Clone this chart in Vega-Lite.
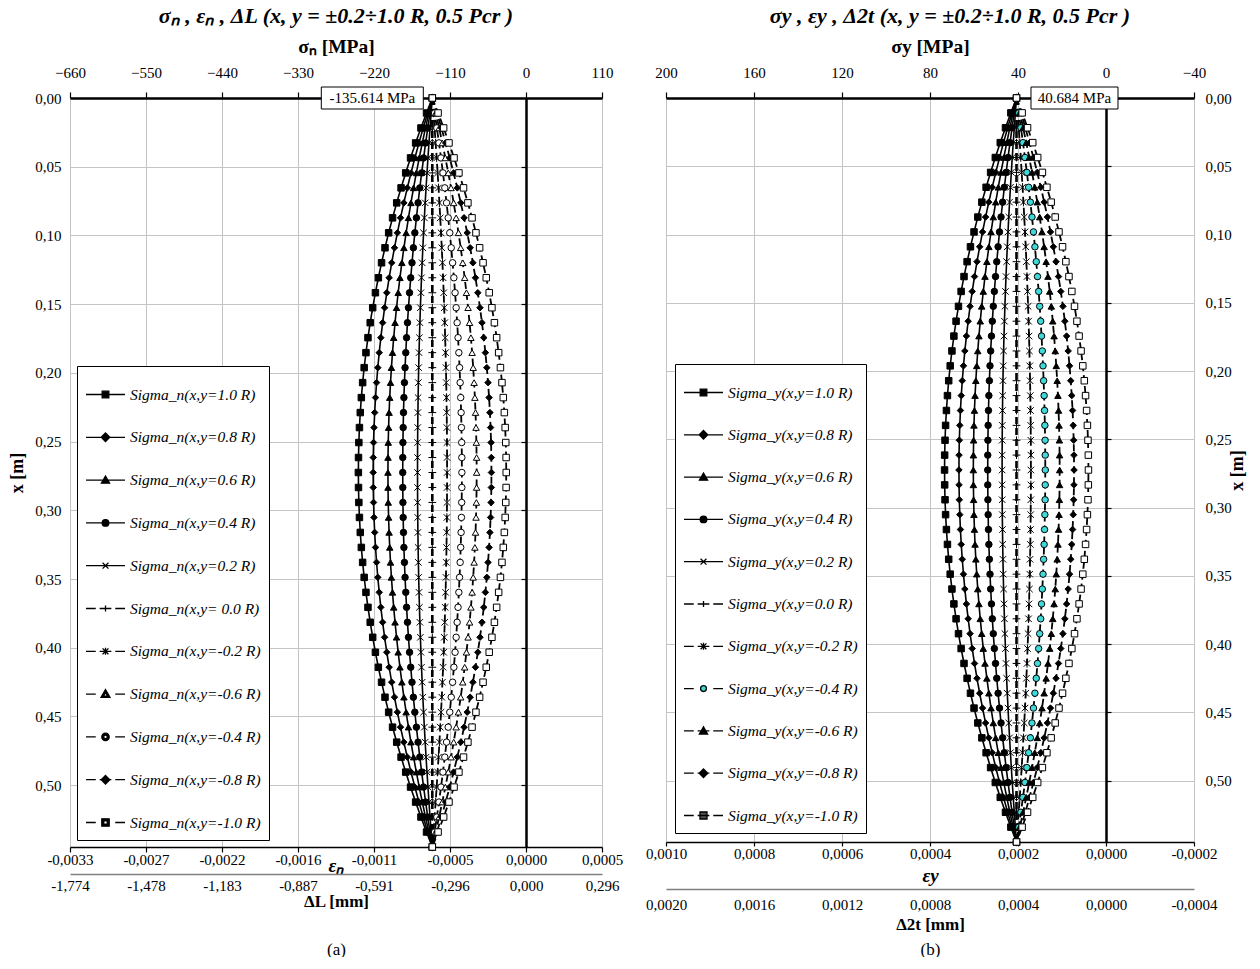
{
  "$schema": "https://vega.github.io/schema/vega-lite/v6.json",
  "background": "white",
  "padding": {"left": 8, "top": 5, "right": 2, "bottom": 0},
  "bounds": "flush",
  "spacing": 64,
  "config": {
    "font": "Liberation Serif",
    "view": {"stroke": null},
    "axis": {
      "labelFont": "Liberation Serif", "titleFont": "Liberation Serif",
      "labelFontSize": 15, "titleFontSize": 18, "titleFontWeight": "bold",
      "labelColor": "black", "titleColor": "black",
      "domainColor": "black", "tickColor": "black",
      "labelFlush": false, "labelOverlap": false, "zindex": 0,
      "gridColor": "#c4c4c4"
    },
    "legend": {"labelFont": "Liberation Serif", "labelFontStyle": "italic", "labelFontSize": 15.5, "labelColor": "black", "labelLimit": 0},
    "title": {"font": "Liberation Serif", "fontSize": 22, "fontStyle": "italic", "fontWeight": "bold", "color": "black"}
  },
  "datasets": {
    "left": [
      {"x":0,"a":-135.61,"b":-135.61,"c":-135.61,"d":-135.61,"e":-135.61,"f":-135.61,"g":-135.61,"h":-135.61,"i":-135.61,"j":-135.61,"k":-135.61},
      {"x":0.0109,"a":-144.00,"b":-142.32,"c":-140.64,"d":-138.97,"e":-137.29,"f":-135.61,"g":-133.93,"h":-132.25,"i":-130.58,"j":-128.90,"k":-127.22},
      {"x":0.0218,"a":-152.05,"b":-148.76,"c":-145.47,"d":-142.19,"e":-138.90,"f":-135.61,"g":-132.32,"h":-129.03,"i":-125.75,"j":-122.46,"k":-119.17},
      {"x":0.0327,"a":-159.75,"b":-154.92,"c":-150.09,"d":-145.27,"e":-140.44,"f":-135.61,"g":-130.78,"h":-125.95,"i":-121.13,"j":-116.30,"k":-111.47},
      {"x":0.0436,"a":-167.11,"b":-160.81,"c":-154.51,"d":-148.21,"e":-141.91,"f":-135.61,"g":-129.31,"h":-123.01,"i":-116.71,"j":-110.41,"k":-104.11},
      {"x":0.0545,"a":-174.13,"b":-166.43,"c":-158.72,"d":-151.02,"e":-143.31,"f":-135.61,"g":-127.91,"h":-120.20,"i":-112.50,"j":-104.79,"k":-97.09},
      {"x":0.0654,"a":-180.81,"b":-171.77,"c":-162.73,"d":-153.69,"e":-144.65,"f":-135.61,"g":-126.57,"h":-117.53,"i":-108.49,"j":-99.45,"k":-90.41},
      {"x":0.0763,"a":-187.14,"b":-176.83,"c":-166.53,"d":-156.22,"e":-145.92,"f":-135.61,"g":-125.30,"h":-115.00,"i":-104.69,"j":-94.39,"k":-84.08},
      {"x":0.0872,"a":-193.13,"b":-181.63,"c":-170.12,"d":-158.62,"e":-147.11,"f":-135.61,"g":-124.11,"h":-112.60,"i":-101.10,"j":-89.59,"k":-78.09},
      {"x":0.0981,"a":-198.78,"b":-186.15,"c":-173.51,"d":-160.88,"e":-148.24,"f":-135.61,"g":-122.98,"h":-110.34,"i":-97.71,"j":-85.07,"k":-72.44},
      {"x":0.109,"a":-204.09,"b":-190.39,"c":-176.70,"d":-163.00,"e":-149.31,"f":-135.61,"g":-121.91,"h":-108.22,"i":-94.52,"j":-80.83,"k":-67.13},
      {"x":0.1199,"a":-209.05,"b":-194.36,"c":-179.67,"d":-164.99,"e":-150.30,"f":-135.61,"g":-120.92,"h":-106.23,"i":-91.55,"j":-76.86,"k":-62.17},
      {"x":0.1308,"a":-213.68,"b":-198.07,"c":-182.45,"d":-166.84,"e":-151.22,"f":-135.61,"g":-120.00,"h":-104.38,"i":-88.77,"j":-73.15,"k":-57.54},
      {"x":0.1417,"a":-217.96,"b":-201.49,"c":-185.02,"d":-168.55,"e":-152.08,"f":-135.61,"g":-119.14,"h":-102.67,"i":-86.20,"j":-69.73,"k":-53.26},
      {"x":0.1526,"a":-221.89,"b":-204.63,"c":-187.38,"d":-170.12,"e":-152.87,"f":-135.61,"g":-118.35,"h":-101.10,"i":-83.84,"j":-66.59,"k":-49.33},
      {"x":0.1635,"a":-225.49,"b":-207.51,"c":-189.54,"d":-171.56,"e":-153.59,"f":-135.61,"g":-117.63,"h":-99.66,"i":-81.68,"j":-63.71,"k":-45.73},
      {"x":0.1744,"a":-228.74,"b":-210.11,"c":-191.49,"d":-172.86,"e":-154.24,"f":-135.61,"g":-116.98,"h":-98.36,"i":-79.73,"j":-61.11,"k":-42.48},
      {"x":0.1853,"a":-231.65,"b":-212.44,"c":-193.23,"d":-174.03,"e":-154.82,"f":-135.61,"g":-116.40,"h":-97.19,"i":-77.99,"j":-58.78,"k":-39.57},
      {"x":0.1962,"a":-234.22,"b":-214.50,"c":-194.78,"d":-175.05,"e":-155.33,"f":-135.61,"g":-115.89,"h":-96.17,"i":-76.44,"j":-56.72,"k":-37.00},
      {"x":0.2071,"a":-236.45,"b":-216.28,"c":-196.11,"d":-175.95,"e":-155.78,"f":-135.61,"g":-115.44,"h":-95.27,"i":-75.11,"j":-54.94,"k":-34.77},
      {"x":0.218,"a":-238.33,"b":-217.79,"c":-197.24,"d":-176.70,"e":-156.15,"f":-135.61,"g":-115.07,"h":-94.52,"i":-73.98,"j":-53.43,"k":-32.89},
      {"x":0.2289,"a":-239.87,"b":-219.02,"c":-198.17,"d":-177.31,"e":-156.46,"f":-135.61,"g":-114.76,"h":-93.91,"i":-73.05,"j":-52.20,"k":-31.35},
      {"x":0.2398,"a":-241.07,"b":-219.98,"c":-198.89,"d":-177.79,"e":-156.70,"f":-135.61,"g":-114.52,"h":-93.43,"i":-72.33,"j":-51.24,"k":-30.15},
      {"x":0.2507,"a":-241.93,"b":-220.67,"c":-199.40,"d":-178.14,"e":-156.87,"f":-135.61,"g":-114.35,"h":-93.08,"i":-71.82,"j":-50.55,"k":-29.29},
      {"x":0.2616,"a":-242.44,"b":-221.07,"c":-199.71,"d":-178.34,"e":-156.98,"f":-135.61,"g":-114.24,"h":-92.88,"i":-71.51,"j":-50.15,"k":-28.78},
      {"x":0.2725,"a":-242.61,"b":-221.21,"c":-199.81,"d":-178.41,"e":-157.01,"f":-135.61,"g":-114.21,"h":-92.81,"i":-71.41,"j":-50.01,"k":-28.61},
      {"x":0.2834,"a":-242.44,"b":-221.07,"c":-199.71,"d":-178.34,"e":-156.98,"f":-135.61,"g":-114.24,"h":-92.88,"i":-71.51,"j":-50.15,"k":-28.78},
      {"x":0.2943,"a":-241.93,"b":-220.67,"c":-199.40,"d":-178.14,"e":-156.87,"f":-135.61,"g":-114.35,"h":-93.08,"i":-71.82,"j":-50.55,"k":-29.29},
      {"x":0.3052,"a":-241.07,"b":-219.98,"c":-198.89,"d":-177.79,"e":-156.70,"f":-135.61,"g":-114.52,"h":-93.43,"i":-72.33,"j":-51.24,"k":-30.15},
      {"x":0.3161,"a":-239.87,"b":-219.02,"c":-198.17,"d":-177.31,"e":-156.46,"f":-135.61,"g":-114.76,"h":-93.91,"i":-73.05,"j":-52.20,"k":-31.35},
      {"x":0.327,"a":-238.33,"b":-217.79,"c":-197.24,"d":-176.70,"e":-156.15,"f":-135.61,"g":-115.07,"h":-94.52,"i":-73.98,"j":-53.43,"k":-32.89},
      {"x":0.3379,"a":-236.45,"b":-216.28,"c":-196.11,"d":-175.95,"e":-155.78,"f":-135.61,"g":-115.44,"h":-95.27,"i":-75.11,"j":-54.94,"k":-34.77},
      {"x":0.3488,"a":-234.22,"b":-214.50,"c":-194.78,"d":-175.05,"e":-155.33,"f":-135.61,"g":-115.89,"h":-96.17,"i":-76.44,"j":-56.72,"k":-37.00},
      {"x":0.3597,"a":-231.65,"b":-212.44,"c":-193.23,"d":-174.03,"e":-154.82,"f":-135.61,"g":-116.40,"h":-97.19,"i":-77.99,"j":-58.78,"k":-39.57},
      {"x":0.3706,"a":-228.74,"b":-210.11,"c":-191.49,"d":-172.86,"e":-154.24,"f":-135.61,"g":-116.98,"h":-98.36,"i":-79.73,"j":-61.11,"k":-42.48},
      {"x":0.3815,"a":-225.49,"b":-207.51,"c":-189.54,"d":-171.56,"e":-153.59,"f":-135.61,"g":-117.63,"h":-99.66,"i":-81.68,"j":-63.71,"k":-45.73},
      {"x":0.3924,"a":-221.89,"b":-204.63,"c":-187.38,"d":-170.12,"e":-152.87,"f":-135.61,"g":-118.35,"h":-101.10,"i":-83.84,"j":-66.59,"k":-49.33},
      {"x":0.4033,"a":-217.96,"b":-201.49,"c":-185.02,"d":-168.55,"e":-152.08,"f":-135.61,"g":-119.14,"h":-102.67,"i":-86.20,"j":-69.73,"k":-53.26},
      {"x":0.4142,"a":-213.68,"b":-198.07,"c":-182.45,"d":-166.84,"e":-151.22,"f":-135.61,"g":-120.00,"h":-104.38,"i":-88.77,"j":-73.15,"k":-57.54},
      {"x":0.4251,"a":-209.05,"b":-194.36,"c":-179.67,"d":-164.99,"e":-150.30,"f":-135.61,"g":-120.92,"h":-106.23,"i":-91.55,"j":-76.86,"k":-62.17},
      {"x":0.436,"a":-204.09,"b":-190.39,"c":-176.70,"d":-163.00,"e":-149.31,"f":-135.61,"g":-121.91,"h":-108.22,"i":-94.52,"j":-80.83,"k":-67.13},
      {"x":0.4469,"a":-198.78,"b":-186.15,"c":-173.51,"d":-160.88,"e":-148.24,"f":-135.61,"g":-122.98,"h":-110.34,"i":-97.71,"j":-85.07,"k":-72.44},
      {"x":0.4578,"a":-193.13,"b":-181.63,"c":-170.12,"d":-158.62,"e":-147.11,"f":-135.61,"g":-124.11,"h":-112.60,"i":-101.10,"j":-89.59,"k":-78.09},
      {"x":0.4687,"a":-187.14,"b":-176.83,"c":-166.53,"d":-156.22,"e":-145.92,"f":-135.61,"g":-125.30,"h":-115.00,"i":-104.69,"j":-94.39,"k":-84.08},
      {"x":0.4796,"a":-180.81,"b":-171.77,"c":-162.73,"d":-153.69,"e":-144.65,"f":-135.61,"g":-126.57,"h":-117.53,"i":-108.49,"j":-99.45,"k":-90.41},
      {"x":0.4905,"a":-174.13,"b":-166.43,"c":-158.72,"d":-151.02,"e":-143.31,"f":-135.61,"g":-127.91,"h":-120.20,"i":-112.50,"j":-104.79,"k":-97.09},
      {"x":0.5014,"a":-167.11,"b":-160.81,"c":-154.51,"d":-148.21,"e":-141.91,"f":-135.61,"g":-129.31,"h":-123.01,"i":-116.71,"j":-110.41,"k":-104.11},
      {"x":0.5123,"a":-159.75,"b":-154.92,"c":-150.09,"d":-145.27,"e":-140.44,"f":-135.61,"g":-130.78,"h":-125.95,"i":-121.13,"j":-116.30,"k":-111.47},
      {"x":0.5232,"a":-152.05,"b":-148.76,"c":-145.47,"d":-142.19,"e":-138.90,"f":-135.61,"g":-132.32,"h":-129.03,"i":-125.75,"j":-122.46,"k":-119.17},
      {"x":0.5341,"a":-144.00,"b":-142.32,"c":-140.64,"d":-138.97,"e":-137.29,"f":-135.61,"g":-133.93,"h":-132.25,"i":-130.58,"j":-128.90,"k":-127.22},
      {"x":0.545,"a":-135.61,"b":-135.61,"c":-135.61,"d":-135.61,"e":-135.61,"f":-135.61,"g":-135.61,"h":-135.61,"i":-135.61,"j":-135.61,"k":-135.61}
    ],
    "right": [
      {"x":0,"a":40.68,"b":40.68,"c":40.68,"d":40.68,"e":40.68,"f":40.68,"g":40.68,"h":40.68,"i":40.68,"j":40.68,"k":40.68},
      {"x":0.0109,"a":43.25,"b":42.73,"c":42.22,"d":41.71,"e":41.19,"f":40.68,"g":40.17,"h":39.65,"i":39.14,"j":38.63,"k":38.12},
      {"x":0.0218,"a":45.70,"b":44.70,"c":43.69,"d":42.69,"e":41.68,"f":40.68,"g":39.68,"h":38.67,"i":37.67,"j":36.66,"k":35.66},
      {"x":0.0327,"a":48.06,"b":46.58,"c":45.11,"d":43.63,"e":42.16,"f":40.68,"g":39.20,"h":37.73,"i":36.25,"j":34.78,"k":33.30},
      {"x":0.0436,"a":50.31,"b":48.38,"c":46.46,"d":44.53,"e":42.61,"f":40.68,"g":38.75,"h":36.83,"i":34.90,"j":32.98,"k":31.05},
      {"x":0.0545,"a":52.45,"b":50.10,"c":47.74,"d":45.39,"e":43.03,"f":40.68,"g":38.33,"h":35.97,"i":33.62,"j":31.26,"k":28.91},
      {"x":0.0654,"a":54.49,"b":51.73,"c":48.97,"d":46.20,"e":43.44,"f":40.68,"g":37.92,"h":35.16,"i":32.39,"j":29.63,"k":26.87},
      {"x":0.0763,"a":56.43,"b":53.28,"c":50.13,"d":46.98,"e":43.83,"f":40.68,"g":37.53,"h":34.38,"i":31.23,"j":28.08,"k":24.93},
      {"x":0.0872,"a":58.26,"b":54.74,"c":51.23,"d":47.71,"e":44.20,"f":40.68,"g":37.16,"h":33.65,"i":30.13,"j":26.62,"k":23.10},
      {"x":0.0981,"a":59.99,"b":56.12,"c":52.26,"d":48.40,"e":44.54,"f":40.68,"g":36.82,"h":32.96,"i":29.10,"j":25.24,"k":21.37},
      {"x":0.109,"a":61.61,"b":57.42,"c":53.24,"d":49.05,"e":44.87,"f":40.68,"g":36.49,"h":32.31,"i":28.12,"j":23.94,"k":19.75},
      {"x":0.1199,"a":63.13,"b":58.64,"c":54.15,"d":49.66,"e":45.17,"f":40.68,"g":36.19,"h":31.70,"i":27.21,"j":22.72,"k":18.24},
      {"x":0.1308,"a":64.54,"b":59.77,"c":55.00,"d":50.22,"e":45.45,"f":40.68,"g":35.91,"h":31.14,"i":26.37,"j":21.59,"k":16.83},
      {"x":0.1417,"a":65.85,"b":60.81,"c":55.78,"d":50.75,"e":45.71,"f":40.68,"g":35.65,"h":30.61,"i":25.58,"j":20.55,"k":15.52},
      {"x":0.1526,"a":67.05,"b":61.78,"c":56.50,"d":51.23,"e":45.95,"f":40.68,"g":35.41,"h":30.13,"i":24.86,"j":19.58,"k":14.31},
      {"x":0.1635,"a":68.15,"b":62.65,"c":57.16,"d":51.67,"e":46.17,"f":40.68,"g":35.19,"h":29.69,"i":24.20,"j":18.71,"k":13.21},
      {"x":0.1744,"a":69.14,"b":63.45,"c":57.76,"d":52.06,"e":46.37,"f":40.68,"g":34.99,"h":29.30,"i":23.60,"j":17.91,"k":12.22},
      {"x":0.1853,"a":70.03,"b":64.16,"c":58.29,"d":52.42,"e":46.55,"f":40.68,"g":34.81,"h":28.94,"i":23.07,"j":17.20,"k":11.33},
      {"x":0.1962,"a":70.82,"b":64.79,"c":58.76,"d":52.73,"e":46.71,"f":40.68,"g":34.65,"h":28.63,"i":22.60,"j":16.57,"k":10.54},
      {"x":0.2071,"a":71.50,"b":65.33,"c":59.17,"d":53.01,"e":46.84,"f":40.68,"g":34.52,"h":28.35,"i":22.19,"j":16.03,"k":9.86},
      {"x":0.218,"a":72.07,"b":65.79,"c":59.52,"d":53.24,"e":46.96,"f":40.68,"g":34.40,"h":28.12,"i":21.84,"j":15.57,"k":9.29},
      {"x":0.2289,"a":72.54,"b":66.17,"c":59.80,"d":53.43,"e":47.05,"f":40.68,"g":34.31,"h":27.93,"i":21.56,"j":15.19,"k":8.82},
      {"x":0.2398,"a":72.91,"b":66.46,"c":60.02,"d":53.57,"e":47.13,"f":40.68,"g":34.23,"h":27.79,"i":21.34,"j":14.90,"k":8.45},
      {"x":0.2507,"a":73.17,"b":66.67,"c":60.17,"d":53.68,"e":47.18,"f":40.68,"g":34.18,"h":27.68,"i":21.19,"j":14.69,"k":8.19},
      {"x":0.2616,"a":73.33,"b":66.80,"c":60.27,"d":53.74,"e":47.21,"f":40.68,"g":34.15,"h":27.62,"i":21.09,"j":14.56,"k":8.03},
      {"x":0.2725,"a":73.38,"b":66.84,"c":60.30,"d":53.76,"e":47.22,"f":40.68,"g":34.14,"h":27.60,"i":21.06,"j":14.52,"k":7.98},
      {"x":0.2834,"a":73.33,"b":66.80,"c":60.27,"d":53.74,"e":47.21,"f":40.68,"g":34.15,"h":27.62,"i":21.09,"j":14.56,"k":8.03},
      {"x":0.2943,"a":73.17,"b":66.67,"c":60.17,"d":53.68,"e":47.18,"f":40.68,"g":34.18,"h":27.68,"i":21.19,"j":14.69,"k":8.19},
      {"x":0.3052,"a":72.91,"b":66.46,"c":60.02,"d":53.57,"e":47.13,"f":40.68,"g":34.23,"h":27.79,"i":21.34,"j":14.90,"k":8.45},
      {"x":0.3161,"a":72.54,"b":66.17,"c":59.80,"d":53.43,"e":47.05,"f":40.68,"g":34.31,"h":27.93,"i":21.56,"j":15.19,"k":8.82},
      {"x":0.327,"a":72.07,"b":65.79,"c":59.52,"d":53.24,"e":46.96,"f":40.68,"g":34.40,"h":28.12,"i":21.84,"j":15.57,"k":9.29},
      {"x":0.3379,"a":71.50,"b":65.33,"c":59.17,"d":53.01,"e":46.84,"f":40.68,"g":34.52,"h":28.35,"i":22.19,"j":16.03,"k":9.86},
      {"x":0.3488,"a":70.82,"b":64.79,"c":58.76,"d":52.73,"e":46.71,"f":40.68,"g":34.65,"h":28.63,"i":22.60,"j":16.57,"k":10.54},
      {"x":0.3597,"a":70.03,"b":64.16,"c":58.29,"d":52.42,"e":46.55,"f":40.68,"g":34.81,"h":28.94,"i":23.07,"j":17.20,"k":11.33},
      {"x":0.3706,"a":69.14,"b":63.45,"c":57.76,"d":52.06,"e":46.37,"f":40.68,"g":34.99,"h":29.30,"i":23.60,"j":17.91,"k":12.22},
      {"x":0.3815,"a":68.15,"b":62.65,"c":57.16,"d":51.67,"e":46.17,"f":40.68,"g":35.19,"h":29.69,"i":24.20,"j":18.71,"k":13.21},
      {"x":0.3924,"a":67.05,"b":61.78,"c":56.50,"d":51.23,"e":45.95,"f":40.68,"g":35.41,"h":30.13,"i":24.86,"j":19.58,"k":14.31},
      {"x":0.4033,"a":65.85,"b":60.81,"c":55.78,"d":50.75,"e":45.71,"f":40.68,"g":35.65,"h":30.61,"i":25.58,"j":20.55,"k":15.52},
      {"x":0.4142,"a":64.54,"b":59.77,"c":55.00,"d":50.22,"e":45.45,"f":40.68,"g":35.91,"h":31.14,"i":26.37,"j":21.59,"k":16.83},
      {"x":0.4251,"a":63.13,"b":58.64,"c":54.15,"d":49.66,"e":45.17,"f":40.68,"g":36.19,"h":31.70,"i":27.21,"j":22.72,"k":18.24},
      {"x":0.436,"a":61.61,"b":57.42,"c":53.24,"d":49.05,"e":44.87,"f":40.68,"g":36.49,"h":32.31,"i":28.12,"j":23.94,"k":19.75},
      {"x":0.4469,"a":59.99,"b":56.12,"c":52.26,"d":48.40,"e":44.54,"f":40.68,"g":36.82,"h":32.96,"i":29.10,"j":25.24,"k":21.37},
      {"x":0.4578,"a":58.26,"b":54.74,"c":51.23,"d":47.71,"e":44.20,"f":40.68,"g":37.16,"h":33.65,"i":30.13,"j":26.62,"k":23.10},
      {"x":0.4687,"a":56.43,"b":53.28,"c":50.13,"d":46.98,"e":43.83,"f":40.68,"g":37.53,"h":34.38,"i":31.23,"j":28.08,"k":24.93},
      {"x":0.4796,"a":54.49,"b":51.73,"c":48.97,"d":46.20,"e":43.44,"f":40.68,"g":37.92,"h":35.16,"i":32.39,"j":29.63,"k":26.87},
      {"x":0.4905,"a":52.45,"b":50.10,"c":47.74,"d":45.39,"e":43.03,"f":40.68,"g":38.33,"h":35.97,"i":33.62,"j":31.26,"k":28.91},
      {"x":0.5014,"a":50.31,"b":48.38,"c":46.46,"d":44.53,"e":42.61,"f":40.68,"g":38.75,"h":36.83,"i":34.90,"j":32.98,"k":31.05},
      {"x":0.5123,"a":48.06,"b":46.58,"c":45.11,"d":43.63,"e":42.16,"f":40.68,"g":39.20,"h":37.73,"i":36.25,"j":34.78,"k":33.30},
      {"x":0.5232,"a":45.70,"b":44.70,"c":43.69,"d":42.69,"e":41.68,"f":40.68,"g":39.68,"h":38.67,"i":37.67,"j":36.66,"k":35.66},
      {"x":0.5341,"a":43.25,"b":42.73,"c":42.22,"d":41.71,"e":41.19,"f":40.68,"g":40.17,"h":39.65,"i":39.14,"j":38.63,"k":38.12},
      {"x":0.545,"a":40.68,"b":40.68,"c":40.68,"d":40.68,"e":40.68,"f":40.68,"g":40.68,"h":40.68,"i":40.68,"j":40.68,"k":40.68}
    ]
  },
  "hconcat": [
    {
      "width": 532,
      "height": 749,
      "title": {"text": "σₙ , εₙ , ΔL (x, y = ±0.2÷1.0 R, 0.5 Pcr )", "offset": 8},
      "layer": [
        {
          "data": {"name": "left"},
          "transform": [{"fold": ["a","b","c","d","e","f","g","h","i","j","k"], "as": ["s","v"]}],
          "mark": {"type": "line", "color": "black", "strokeCap": "butt"},
          "encoding": {
            "x": {"field": "v", "type": "quantitative", "scale": {"domain": [-660, 110], "nice": false, "zero": false},
              "axis": {"orient": "top", "values": [-660,-550,-440,-330,-220,-110,0,110], "format": "d", "title": "σₙ [MPa]", "titleFontSize": 19.5,
                "titlePadding": 9, "labelPadding": 12, "tickSize": 6, "tickWidth": 1.2, "domainWidth": 2.5, "grid": true, "gridWidth": 1}},
            "y": {"field": "x", "type": "quantitative", "scale": {"domain": [0, 0.545], "reverse": true, "nice": false, "zero": false},
              "axis": {"orient": "left", "values": [0,0.05,0.1,0.15,0.2,0.25,0.3,0.35,0.4,0.45,0.5],
                "labelExpr": "replace(format(datum.value, '.2f'), '.', ',')", "title": "x [m]", "titlePadding": 8,
                "ticks": false, "domain": false, "grid": true, "labelPadding": 9}},
            "detail": {"field": "s"},
            "order": {"field": "x", "type": "quantitative"},
            "strokeDash": {"field": "s", "type": "nominal", "legend": null,
              "scale": {"domain": ["a","b","c","d","e","f","g","h","i","j","k"], "range": [[1,0],[1,0],[1,0],[1,0],[1,0],[7,4],[7,4],[7,4],[7,4],[7,4],[7,4]]}},
            "strokeWidth": {"field": "s", "type": "ordinal", "legend": null,
              "scale": {"type": "ordinal", "domain": ["a","b","c","d","e","f","g","h","i","j","k"], "range": [1.6,1.6,1.6,1.6,1.6,2.6,1.8,1.8,1.8,1.8,1.8]}}
          }
        },
        {
          "data": {"name": "left"},
          "transform": [{"fold": ["a","b","c","d","e","f","g","h","i","j","k"], "as": ["s","v"]}],
          "mark": {"type": "point", "filled": true, "stroke": "black", "strokeWidth": 1, "size": 42, "opacity": 1},
          "encoding": {
            "x": {"field": "v", "type": "quantitative", "scale": {"domain": [-660, 110], "nice": false, "zero": false},
              "axis": {"orient": "bottom", "values": [-660,-550,-440,-330,-220,-110,0,110],
                "labelExpr": "['-0,0033','-0,0027','-0,0022','-0,0016','-0,0011','-0,0005','0,0000','0,0005'][round((datum.value + 660) / 110)]",
                "title": "εₙ", "titleFontSize": 19, "titleFontStyle": "italic", "titlePadding": -11,
                "tickSize": 5, "tickWidth": 1.2, "domainWidth": 1.5, "labelPadding": 0, "grid": false}},
            "y": {"field": "x", "type": "quantitative", "scale": {"domain": [0, 0.545], "reverse": true, "nice": false, "zero": false},
              "axis": {"orient": "left", "offset": -456, "values": [0.05,0.1,0.15,0.2,0.25,0.3,0.35,0.4,0.45,0.5],
                "labels": false, "title": null, "grid": false, "domainWidth": 2.5, "tickSize": 5, "tickWidth": 1.2}},
            "shape": {"field": "s", "type": "nominal", "legend": null,
              "scale": {"domain": ["a","b","c","d","e","f","g","h","i","j","k"],
                "range": ["square","diamond","triangle-up","circle","M-1,-1L1,1M-1,1L1,-1","M-1.2,0H1.2M0,-1.2V1.2","M-1,-1L1,1M-1,1L1,-1M0,-1.3V1.3","circle","triangle-up","diamond","square"]}},
            "fill": {"field": "s", "type": "nominal", "legend": null,
              "scale": {"domain": ["a","b","c","d","e","f","g","h","i","j","k"],
                "range": ["black","black","black","black","black","black","black","white","white","black","white"]}}
          }
        },
        {
          "data": {"values": [{"sigma": -135.614, "x": 0, "label": "-135.614 MPa"}]},
          "mark": {"type": "rect", "width": 102, "height": 22, "xOffset": -60, "fill": "white", "stroke": "black", "strokeWidth": 1},
          "encoding": {
            "x": {"field": "sigma", "type": "quantitative", "scale": {"domain": [-660, 110], "nice": false, "zero": false},
              "axis": {"orient": "bottom", "offset": 27, "values": [-660,-550,-440,-330,-220,-110,0,110],
                "labelExpr": "['-1,774','-1,478','-1,183','-0,887','-0,591','-0,296','0,000','0,296'][round((datum.value + 660) / 110)]",
                "title": "ΔL [mm]", "titleFontSize": 17, "titlePadding": 0, "ticks": false, "domainColor": "#808080", "domainWidth": 1.5,
                "labelPadding": 4, "grid": false}},
            "y": {"field": "x", "type": "quantitative", "scale": {"domain": [0, 0.545], "reverse": true, "nice": false, "zero": false}, "axis": null}
          }
        },
        {
          "data": {"values": [{"sigma": -135.614, "x": 0, "label": "-135.614 MPa"}]},
          "mark": {"type": "text", "dx": -60, "font": "Liberation Serif", "fontSize": 15, "color": "black", "baseline": "middle"},
          "encoding": {
            "x": {"field": "sigma", "type": "quantitative", "scale": {"domain": [-660, 110], "nice": false, "zero": false},
              "axis": {"orient": "bottom", "offset": 90, "values": [], "labels": false, "ticks": false, "domain": false, "grid": false,
                "title": "(a)", "titleFontWeight": "normal", "titleFontSize": 17, "titlePadding": 4}},
            "y": {"field": "x", "type": "quantitative", "scale": {"domain": [0, 0.545], "reverse": true, "nice": false, "zero": false}, "axis": null},
            "text": {"field": "label"}
          }
        },
        {
          "data": {"values": [
            {"label": "Sigma_n(x,y=1.0 R)"}, {"label": "Sigma_n(x,y=0.8 R)"}, {"label": "Sigma_n(x,y=0.6 R)"},
            {"label": "Sigma_n(x,y=0.4 R)"}, {"label": "Sigma_n(x,y=0.2 R)"}, {"label": "Sigma_n(x,y= 0.0 R)"},
            {"label": "Sigma_n(x,y=-0.2 R)"}, {"label": "Sigma_n(x,y=-0.6 R)"}, {"label": "Sigma_n(x,y=-0.4 R)"},
            {"label": "Sigma_n(x,y=-0.8 R)"}, {"label": "Sigma_n(x,y=-1.0 R)"}
          ]},
          "mark": {"type": "point", "filled": true, "strokeWidth": 1.3, "opacity": 0},
          "encoding": {
            "shape": {"field": "label", "type": "nominal",
              "scale": {"domain": ["Sigma_n(x,y=1.0 R)","Sigma_n(x,y=0.8 R)","Sigma_n(x,y=0.6 R)","Sigma_n(x,y=0.4 R)","Sigma_n(x,y=0.2 R)","Sigma_n(x,y= 0.0 R)","Sigma_n(x,y=-0.2 R)","Sigma_n(x,y=-0.6 R)","Sigma_n(x,y=-0.4 R)","Sigma_n(x,y=-0.8 R)","Sigma_n(x,y=-1.0 R)"],
                "range": [
                  "M-1,0H1M-0.17,-0.17H0.17V0.17H-0.17Z",
                  "M-1,0H1M0,-0.22L0.22,0L0,0.22L-0.22,0Z",
                  "M-1,0H1M0,-0.21L0.21,0.16H-0.21Z",
                  "M-1,0H1M-0.17,0A0.17,0.17,0,1,1,0.17,0A0.17,0.17,0,1,1,-0.17,0Z",
                  "M-1,0H1M-0.15,-0.15L0.15,0.15M-0.15,0.15L0.15,-0.15",
                  "M-1,0H-0.5M-0.3,0H0.3M0.5,0H1M0,-0.15V0.15",
                  "M-1,0H-0.5M-0.3,0H0.3M0.5,0H1M-0.15,-0.15L0.15,0.15M-0.15,0.15L0.15,-0.15M0,-0.18V0.18",
                  "M-1,0H-0.5M0.5,0H1M0,-0.23L0.23,0.17H-0.23ZM0,-0.08L-0.1,0.1H0.1Z",
                  "M-1,0H-0.5M0.5,0H1M-0.19,0A0.19,0.19,0,1,1,0.19,0A0.19,0.19,0,1,1,-0.19,0ZM-0.09,0A0.09,0.09,0,1,0,0.09,0A0.09,0.09,0,1,0,-0.09,0Z",
                  "M-1,0H-0.5M-0.3,0H0.3M0.5,0H1M0,-0.22L0.22,0L0,0.22L-0.22,0Z",
                  "M-1,0H-0.5M0.5,0H1M-0.19,-0.19H0.19V0.19H-0.19ZM-0.09,-0.09V0.09H0.09V-0.09Z"
                ]},
              "legend": {"title": null, "orient": "bottom-left", "offset": 7, "symbolSize": 1521, "symbolStrokeWidth": 1.3, "symbolOpacity": 1,
                "rowPadding": 13.8, "padding": 8, "labelOffset": 4, "strokeColor": "black", "fillColor": "white"}},
            "fill": {"field": "label", "type": "nominal",
              "scale": {"domain": ["Sigma_n(x,y=1.0 R)","Sigma_n(x,y=0.8 R)","Sigma_n(x,y=0.6 R)","Sigma_n(x,y=0.4 R)","Sigma_n(x,y=0.2 R)","Sigma_n(x,y= 0.0 R)","Sigma_n(x,y=-0.2 R)","Sigma_n(x,y=-0.6 R)","Sigma_n(x,y=-0.4 R)","Sigma_n(x,y=-0.8 R)","Sigma_n(x,y=-1.0 R)"],
                "range": ["black","black","black","black","black","black","black","black","black","black","black"]},
              "legend": {"title": null, "orient": "bottom-left", "offset": 7, "symbolSize": 1521, "symbolStrokeWidth": 1.3, "symbolOpacity": 1,
                "rowPadding": 13.8, "padding": 8, "labelOffset": 4, "strokeColor": "black", "fillColor": "white"}},
            "stroke": {"field": "label", "type": "nominal",
              "scale": {"domain": ["Sigma_n(x,y=1.0 R)","Sigma_n(x,y=0.8 R)","Sigma_n(x,y=0.6 R)","Sigma_n(x,y=0.4 R)","Sigma_n(x,y=0.2 R)","Sigma_n(x,y= 0.0 R)","Sigma_n(x,y=-0.2 R)","Sigma_n(x,y=-0.6 R)","Sigma_n(x,y=-0.4 R)","Sigma_n(x,y=-0.8 R)","Sigma_n(x,y=-1.0 R)"],
                "range": ["black","black","black","black","black","black","black","black","black","black","black"]},
              "legend": {"title": null, "orient": "bottom-left", "offset": 7, "symbolSize": 1521, "symbolStrokeWidth": 1.3, "symbolOpacity": 1,
                "rowPadding": 13.8, "padding": 8, "labelOffset": 4, "strokeColor": "black", "fillColor": "white"}}
          }
        }
      ],
      "resolve": {
        "scale": {"shape": "independent", "fill": "independent", "stroke": "independent"},
        "axis": {"x": "independent", "y": "independent"}
      }
    },
    {
      "width": 528,
      "height": 744,
      "title": {"text": "σy , εy , Δ2t (x, y = ±0.2÷1.0 R, 0.5 Pcr )", "offset": 8, "dx": 20},
      "layer": [
        {
          "data": {"name": "right"},
          "transform": [{"fold": ["a","b","c","d","e","f","g","h","i","j","k"], "as": ["s","v"]}],
          "mark": {"type": "line", "color": "black", "strokeCap": "butt"},
          "encoding": {
            "x": {"field": "v", "type": "quantitative", "scale": {"domain": [-40, 200], "reverse": true, "nice": false, "zero": false},
              "axis": {"orient": "top", "values": [200,160,120,80,40,0,-40], "format": "d", "title": "σy [MPa]", "titleFontSize": 19.5,
                "titlePadding": 9, "labelPadding": 12, "tickSize": 6, "tickWidth": 1.2, "domainWidth": 2.5, "grid": true, "gridWidth": 1}},
            "y": {"field": "x", "type": "quantitative", "scale": {"domain": [0, 0.545], "reverse": true, "nice": false, "zero": false},
              "axis": {"orient": "right", "values": [0,0.05,0.1,0.15,0.2,0.25,0.3,0.35,0.4,0.45,0.5],
                "labelExpr": "replace(format(datum.value, '.2f'), '.', ',')", "title": "x [m]", "titleAngle": 270, "titlePadding": 15,
                "ticks": false, "domain": false, "grid": true, "labelPadding": 11}},
            "detail": {"field": "s"},
            "order": {"field": "x", "type": "quantitative"},
            "strokeDash": {"field": "s", "type": "nominal", "legend": null,
              "scale": {"domain": ["a","b","c","d","e","f","g","h","i","j","k"], "range": [[1,0],[1,0],[1,0],[1,0],[1,0],[7,4],[7,4],[7,4],[7,4],[7,4],[7,4]]}},
            "strokeWidth": {"field": "s", "type": "ordinal", "legend": null,
              "scale": {"type": "ordinal", "domain": ["a","b","c","d","e","f","g","h","i","j","k"], "range": [1.6,1.6,1.6,1.6,1.6,2.6,1.8,1.8,1.8,1.8,1.8]}}
          }
        },
        {
          "data": {"name": "right"},
          "transform": [{"fold": ["a","b","c","d","e","f","g","h","i","j","k"], "as": ["s","v"]}],
          "mark": {"type": "point", "filled": true, "stroke": "black", "strokeWidth": 1, "size": 42, "opacity": 1},
          "encoding": {
            "x": {"field": "v", "type": "quantitative", "scale": {"domain": [-40, 200], "reverse": true, "nice": false, "zero": false},
              "axis": {"orient": "bottom", "values": [200,160,120,80,40,0,-40],
                "labelExpr": "['0,0010','0,0008','0,0006','0,0004','0,0002','0,0000','-0,0002'][round((200 - datum.value) / 40)]",
                "title": "εy", "titleFontSize": 19, "titleFontStyle": "italic", "titlePadding": 5,
                "tickSize": 4, "tickWidth": 1.2, "domainWidth": 1.5, "labelPadding": 0, "grid": false}},
            "y": {"field": "x", "type": "quantitative", "scale": {"domain": [0, 0.545], "reverse": true, "nice": false, "zero": false},
              "axis": {"orient": "right", "offset": -88, "values": [0.05,0.1,0.15,0.2,0.25,0.3,0.35,0.4,0.45,0.5],
                "labels": false, "title": null, "grid": false, "domainWidth": 2.5, "tickSize": 5, "tickWidth": 1.2}},
            "shape": {"field": "s", "type": "nominal", "legend": null,
              "scale": {"domain": ["a","b","c","d","e","f","g","h","i","j","k"],
                "range": ["square","diamond","triangle-up","circle","M-1,-1L1,1M-1,1L1,-1","M-1.2,0H1.2M0,-1.2V1.2","M-1,-1L1,1M-1,1L1,-1M0,-1.3V1.3","circle","triangle-up","diamond","square"]}},
            "fill": {"field": "s", "type": "nominal", "legend": null,
              "scale": {"domain": ["a","b","c","d","e","f","g","h","i","j","k"],
                "range": ["black","black","black","black","black","black","black","#3fd9d9","black","black","white"]}}
          }
        },
        {
          "data": {"values": [{"sigma": 40.684, "x": 0, "label": "40.684 MPa"}]},
          "mark": {"type": "rect", "width": 87, "height": 22, "xOffset": 58, "fill": "white", "stroke": "black", "strokeWidth": 1},
          "encoding": {
            "x": {"field": "sigma", "type": "quantitative", "scale": {"domain": [-40, 200], "reverse": true, "nice": false, "zero": false},
              "axis": {"orient": "bottom", "offset": 47, "values": [200,160,120,80,40,0,-40],
                "labelExpr": "['0,0020','0,0016','0,0012','0,0008','0,0004','0,0000','-0,0004'][round((200 - datum.value) / 40)]",
                "title": "Δ2t [mm]", "titleFontSize": 17, "titlePadding": 4, "ticks": false, "domainColor": "#808080", "domainWidth": 1.5,
                "labelPadding": 8, "grid": false}},
            "y": {"field": "x", "type": "quantitative", "scale": {"domain": [0, 0.545], "reverse": true, "nice": false, "zero": false}, "axis": null}
          }
        },
        {
          "data": {"values": [{"sigma": 40.684, "x": 0, "label": "40.684 MPa"}]},
          "mark": {"type": "text", "dx": 58, "font": "Liberation Serif", "fontSize": 15, "color": "black", "baseline": "middle"},
          "encoding": {
            "x": {"field": "sigma", "type": "quantitative", "scale": {"domain": [-40, 200], "reverse": true, "nice": false, "zero": false},
              "axis": {"orient": "bottom", "offset": 95, "values": [], "labels": false, "ticks": false, "domain": false, "grid": false,
                "title": "(b)", "titleFontWeight": "normal", "titleFontSize": 17, "titlePadding": 4}},
            "y": {"field": "x", "type": "quantitative", "scale": {"domain": [0, 0.545], "reverse": true, "nice": false, "zero": false}, "axis": null},
            "text": {"field": "label"}
          }
        },
        {
          "data": {"values": [
            {"label": "Sigma_y(x,y=1.0 R)"}, {"label": "Sigma_y(x,y=0.8 R)"}, {"label": "Sigma_y(x,y=0.6 R)"},
            {"label": "Sigma_y(x,y=0.4 R)"}, {"label": "Sigma_y(x,y=0.2 R)"}, {"label": "Sigma_y(x,y=0.0 R)"},
            {"label": "Sigma_y(x,y=-0.2 R)"}, {"label": "Sigma_y(x,y=-0.4 R)"}, {"label": "Sigma_y(x,y=-0.6 R)"},
            {"label": "Sigma_y(x,y=-0.8 R)"}, {"label": "Sigma_y(x,y=-1.0 R)"}
          ]},
          "mark": {"type": "point", "filled": true, "strokeWidth": 1.3, "opacity": 0},
          "encoding": {
            "shape": {"field": "label", "type": "nominal",
              "scale": {"domain": ["Sigma_y(x,y=1.0 R)","Sigma_y(x,y=0.8 R)","Sigma_y(x,y=0.6 R)","Sigma_y(x,y=0.4 R)","Sigma_y(x,y=0.2 R)","Sigma_y(x,y=0.0 R)","Sigma_y(x,y=-0.2 R)","Sigma_y(x,y=-0.4 R)","Sigma_y(x,y=-0.6 R)","Sigma_y(x,y=-0.8 R)","Sigma_y(x,y=-1.0 R)"],
                "range": [
                  "M-1,0H1M-0.17,-0.17H0.17V0.17H-0.17Z",
                  "M-1,0H1M0,-0.22L0.22,0L0,0.22L-0.22,0Z",
                  "M-1,0H1M0,-0.21L0.21,0.16H-0.21Z",
                  "M-1,0H1M-0.17,0A0.17,0.17,0,1,1,0.17,0A0.17,0.17,0,1,1,-0.17,0Z",
                  "M-1,0H1M-0.15,-0.15L0.15,0.15M-0.15,0.15L0.15,-0.15",
                  "M-1,0H-0.5M-0.3,0H0.3M0.5,0H1M0,-0.15V0.15",
                  "M-1,0H-0.5M-0.3,0H0.3M0.5,0H1M-0.15,-0.15L0.15,0.15M-0.15,0.15L0.15,-0.15M0,-0.18V0.18",
                  "M-1,0H-0.5M0.5,0H1M-0.15,0A0.15,0.15,0,1,1,0.15,0A0.15,0.15,0,1,1,-0.15,0Z",
                  "M-1,0H-0.5M-0.3,0H0.3M0.5,0H1M0,-0.21L0.21,0.16H-0.21Z",
                  "M-1,0H-0.5M-0.3,0H0.3M0.5,0H1M0,-0.22L0.22,0L0,0.22L-0.22,0Z",
                  "M-1,0H-0.5M-0.3,0H0.3M0.5,0H1M-0.18,-0.18H0.18V0.18H-0.18Z"
                ]},
              "legend": {"title": null, "orient": "bottom-left", "offset": 9, "symbolSize": 1521, "symbolStrokeWidth": 1.3, "symbolOpacity": 1,
                "rowPadding": 13.3, "padding": 8, "labelOffset": 4, "strokeColor": "black", "fillColor": "white"}},
            "fill": {"field": "label", "type": "nominal",
              "scale": {"domain": ["Sigma_y(x,y=1.0 R)","Sigma_y(x,y=0.8 R)","Sigma_y(x,y=0.6 R)","Sigma_y(x,y=0.4 R)","Sigma_y(x,y=0.2 R)","Sigma_y(x,y=0.0 R)","Sigma_y(x,y=-0.2 R)","Sigma_y(x,y=-0.4 R)","Sigma_y(x,y=-0.6 R)","Sigma_y(x,y=-0.8 R)","Sigma_y(x,y=-1.0 R)"],
                "range": ["black","black","black","black","black","black","black","#3fd9d9","black","black","#555555"]},
              "legend": {"title": null, "orient": "bottom-left", "offset": 9, "symbolSize": 1521, "symbolStrokeWidth": 1.3, "symbolOpacity": 1,
                "rowPadding": 13.3, "padding": 8, "labelOffset": 4, "strokeColor": "black", "fillColor": "white"}},
            "stroke": {"field": "label", "type": "nominal",
              "scale": {"domain": ["Sigma_y(x,y=1.0 R)","Sigma_y(x,y=0.8 R)","Sigma_y(x,y=0.6 R)","Sigma_y(x,y=0.4 R)","Sigma_y(x,y=0.2 R)","Sigma_y(x,y=0.0 R)","Sigma_y(x,y=-0.2 R)","Sigma_y(x,y=-0.4 R)","Sigma_y(x,y=-0.6 R)","Sigma_y(x,y=-0.8 R)","Sigma_y(x,y=-1.0 R)"],
                "range": ["black","black","black","black","black","black","black","black","black","black","black"]},
              "legend": {"title": null, "orient": "bottom-left", "offset": 9, "symbolSize": 1521, "symbolStrokeWidth": 1.3, "symbolOpacity": 1,
                "rowPadding": 13.3, "padding": 8, "labelOffset": 4, "strokeColor": "black", "fillColor": "white"}}
          }
        }
      ],
      "resolve": {
        "scale": {"shape": "independent", "fill": "independent", "stroke": "independent"},
        "axis": {"x": "independent", "y": "independent"}
      }
    }
  ]
}
